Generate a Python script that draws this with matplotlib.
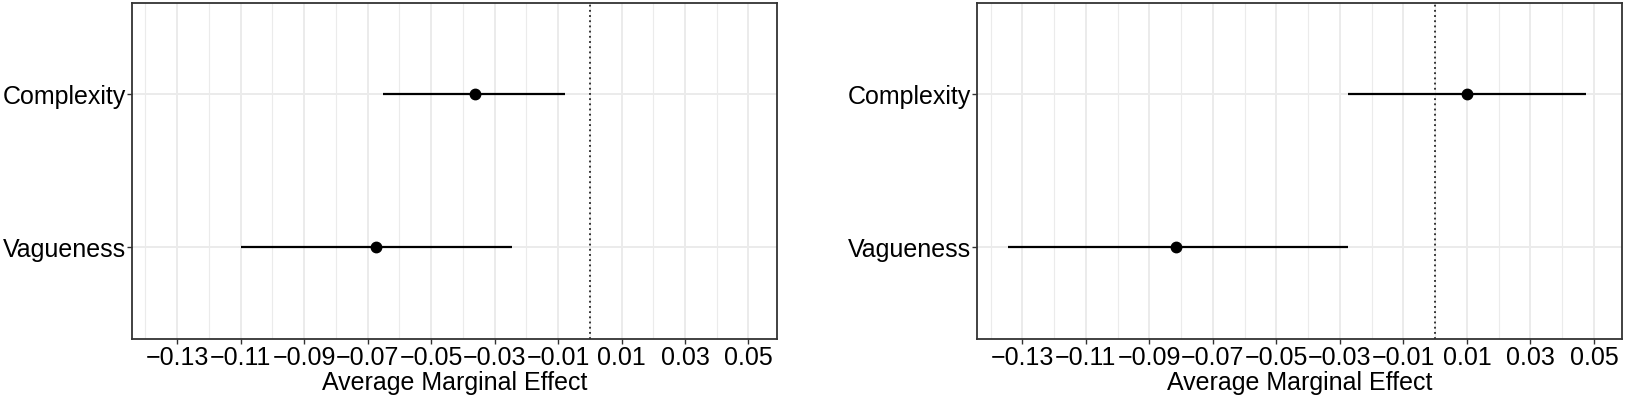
import matplotlib
matplotlib.use("Agg")
import matplotlib.pyplot as plt
import numpy as np
from matplotlib.ticker import FixedLocator, FuncFormatter

plt.rcParams["font.family"] = ["Liberation Sans", "DejaVu Sans"]

terms = ["Vagueness", "Complexity"]

left_est = [-0.0673, -0.0363]
left_lo = [-0.1097, -0.0652]
left_hi = [-0.0245, -0.0077]

right_est = [-0.0815, 0.0099]
right_lo = [-0.1345, -0.0276]
right_hi = [-0.0276, 0.0476]

major_ticks = [-0.13, -0.11, -0.09, -0.07, -0.05, -0.03, -0.01, 0.01, 0.03, 0.05]
minor_ticks = [-0.14, -0.12, -0.10, -0.08, -0.06, -0.04, -0.02, 0.0, 0.02, 0.04]
xlim = (-0.1442, 0.0589)

fig = plt.figure(figsize=(16.25, 3.99), dpi=100)
ax_left = fig.add_axes([0.0812, 0.1504, 0.3968, 0.8433])
ax_right = fig.add_axes([0.6014, 0.1504, 0.3969, 0.8433])


def fmt(v, pos):
    return ("%.2f" % v).replace("-", "\u2212")


for ax, est, lo, hi in [(ax_left, left_est, left_lo, left_hi),
                        (ax_right, right_est, right_lo, right_hi)]:
    y = np.arange(1, len(terms) + 1)
    ax.set_xlim(*xlim)
    ax.set_ylim(0.4, len(terms) + 0.6)

    # grid like theme_bw
    for m in minor_ticks:
        ax.axvline(m, color="#EBEBEB", lw=0.8, zorder=0)
    for m in major_ticks:
        ax.axvline(m, color="#EBEBEB", lw=1.4, zorder=0)
    for yy in y:
        ax.axhline(yy, color="#EBEBEB", lw=1.4, zorder=0)

    ax.axvline(0, color="black", lw=1.1, linestyle=(0, (1.2, 2.2)), zorder=1)
    ax.hlines(y, lo, hi, color="black", lw=1.6, zorder=2)
    ax.plot(est, y, "o", color="black", markersize=7.5, zorder=3)

    ax.xaxis.set_major_locator(FixedLocator(major_ticks))
    ax.xaxis.set_major_formatter(FuncFormatter(fmt))
    ax.set_yticks(y)
    ax.set_yticklabels(terms)
    ax.tick_params(axis="both", length=3.5, width=1.0, color="#333333",
                   labelsize=18, labelcolor="black", pad=1.5)
    ax.tick_params(axis="y", pad=0.8)
    ax.set_xlabel("Average Marginal Effect", fontsize=18, labelpad=1)
    for s in ax.spines.values():
        s.set_color("#333333")
        s.set_linewidth(1.3)

fig.savefig("out.png", dpi=100)
